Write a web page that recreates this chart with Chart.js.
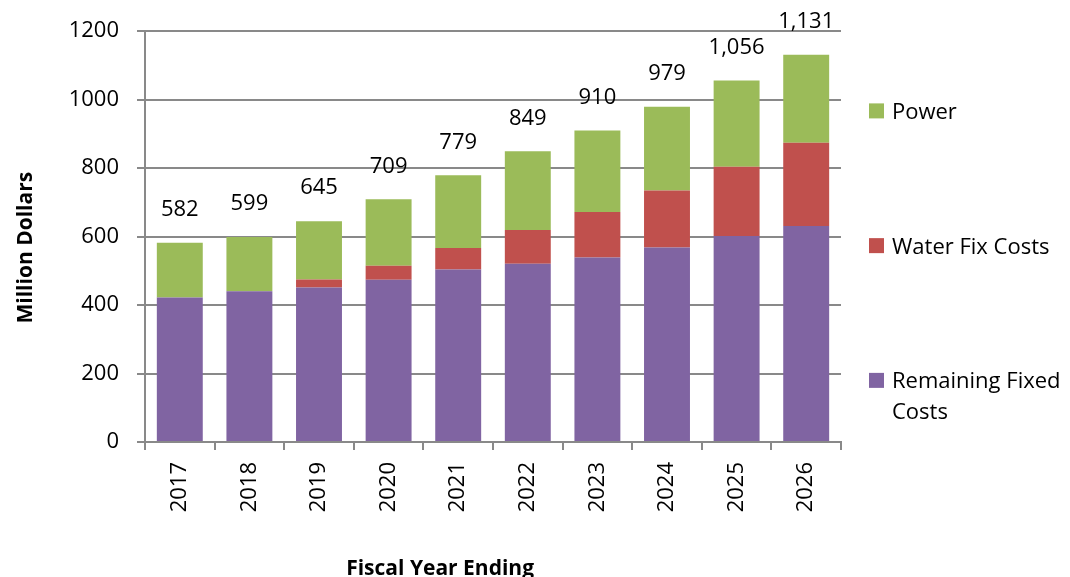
<!DOCTYPE html>
<html>
<head>
<meta charset="utf-8">
<script src="https://cdn.jsdelivr.net/npm/chart.js@4.4.1/dist/chart.umd.min.js"></script>
<style>
  html, body { margin: 0; padding: 0; background: #ffffff; }
  #wrap { width: 1070px; height: 577px; position: relative; }
</style>
</head>
<body>
<div id="wrap"><canvas id="c" width="1070" height="577"></canvas></div>
<script>
// ---- data ----
const years = ['2017', '2018', '2019', '2020', '2021', '2022', '2023', '2024', '2025', '2026'];
const remainingFixedCosts = [422, 440, 451, 474, 504, 521, 539, 568, 602, 631];
const waterFixCosts       = [0, 0, 24, 41, 63, 98, 133, 167, 202, 243];
const powerCosts          = [160, 159, 170, 194, 212, 230, 238, 244, 252, 257];
const yTickValues = [0, 200, 400, 600, 800, 1000, 1200];
const yAxisTitle = 'Million Dollars';
const xAxisTitle = 'Fiscal Year Ending';

const GRID = '#898989';
const FONT = '"Open Sans", "Liberation Sans", sans-serif';

// totals above each stacked column
const totalsPlugin = {
  id: 'totals',
  afterDatasetsDraw(chart) {
    const ctx = chart.ctx;
    const topMeta = chart.getDatasetMeta(chart.data.datasets.length - 1);
    ctx.save();
    ctx.font = '22px ' + FONT;
    ctx.fillStyle = '#000000';
    ctx.textAlign = 'center';
    ctx.textBaseline = 'middle';
    chart.data.labels.forEach((lbl, i) => {
      const total = chart.data.datasets.reduce((s, d) => s + d.data[i], 0);
      const el = topMeta.data[i];
      ctx.fillText(total.toLocaleString('en-US'), el.x, el.y - 33);
    });
    ctx.restore();
  }
};

// axis titles placed like the original
const titlesPlugin = {
  id: 'titles',
  afterDraw(chart) {
    const ctx = chart.ctx;
    const a = chart.chartArea;
    ctx.save();
    ctx.fillStyle = '#000000';
    ctx.font = 'bold 21px ' + FONT;
    ctx.textAlign = 'center';
    ctx.textBaseline = 'alphabetic';
    ctx.fillText(xAxisTitle, a.left + (a.right - a.left) * 0.424, chart.height - 2);
    ctx.translate(32, a.top + (a.bottom - a.top) * 0.527);
    ctx.rotate(-Math.PI / 2);
    ctx.fillText(yAxisTitle, 0, 0);
    ctx.restore();
  }
};

// legend on the right, top-to-bottom in reverse stacking order
const legendPlugin = {
  id: 'sideLegend',
  afterDraw(chart) {
    const ctx = chart.ctx;
    const a = chart.chartArea;
    const boxX = a.right + 28, box = 15, textX = boxX + 23;
    const maxW = chart.width - textX;
    const rowCenters = [0.194, 0.522, 0.850].map(f => a.top + (a.bottom - a.top) * f);
    const ds = chart.data.datasets.slice().reverse();
    ctx.save();
    ctx.font = '22px ' + FONT;
    ctx.textAlign = 'left';
    ctx.textBaseline = 'alphabetic';
    ds.forEach((d, k) => {
      const cy = rowCenters[k];
      ctx.fillStyle = d.backgroundColor;
      ctx.fillRect(boxX, cy - box / 2, box, box);
      ctx.fillStyle = '#000000';
      // simple word wrap
      const words = d.label.split(' ');
      const lines = [];
      let cur = '';
      words.forEach(w => {
        const t = cur ? cur + ' ' + w : w;
        if (ctx.measureText(t).width > maxW && cur) { lines.push(cur); cur = w; }
        else cur = t;
      });
      if (cur) lines.push(cur);
      lines.forEach((ln, j) => ctx.fillText(ln, textX, cy + 8 + j * 31));
    });
    ctx.restore();
  }
};

new Chart(document.getElementById('c'), {
  type: 'bar',
  data: {
    labels: years,
    datasets: [
      { label: 'Remaining Fixed Costs', data: remainingFixedCosts, backgroundColor: '#8064A2' },
      { label: 'Water Fix Costs', data: waterFixCosts, backgroundColor: '#C0504D' },
      { label: 'Power', data: powerCosts, backgroundColor: '#9BBB59' }
    ]
  },
  options: {
    responsive: false,
    animation: false,
    devicePixelRatio: 1,
    datasets: { bar: { barPercentage: 0.66, categoryPercentage: 1.0, borderWidth: 0 } },
    layout: { padding: { top: 27, right: 229, bottom: 0, left: 0 } },
    plugins: {
      legend: { display: false },
      tooltip: { enabled: false },
      title: { display: false }
    },
    scales: {
      x: {
        stacked: true,
        afterFit(s) { s.height = 135; },
        grid: { display: true, drawOnChartArea: false, drawTicks: true, tickLength: 8, color: GRID, lineWidth: 2, offset: true },
        border: { display: true, color: GRID, width: 2 },
        ticks: {
          color: '#000000',
          font: { family: FONT, size: 22 },
          minRotation: 90, maxRotation: 90, autoSkip: false, padding: 12
        }
      },
      y: {
        stacked: true,
        min: yTickValues[0],
        max: yTickValues[yTickValues.length - 1],
        afterFit(s) { s.width = 145; },
        afterBuildTicks(s) { s.ticks = yTickValues.map(v => ({ value: v })); },
        grid: { display: true, drawTicks: true, tickLength: 8, color: GRID, lineWidth: 2 },
        border: { display: true, color: GRID, width: 2 },
        ticks: {
          color: '#000000',
          font: { family: FONT, size: 22 },
          padding: 18,
          callback: v => String(v)
        }
      }
    }
  },
  plugins: [totalsPlugin, titlesPlugin, legendPlugin]
});
</script>
</body>
</html>
